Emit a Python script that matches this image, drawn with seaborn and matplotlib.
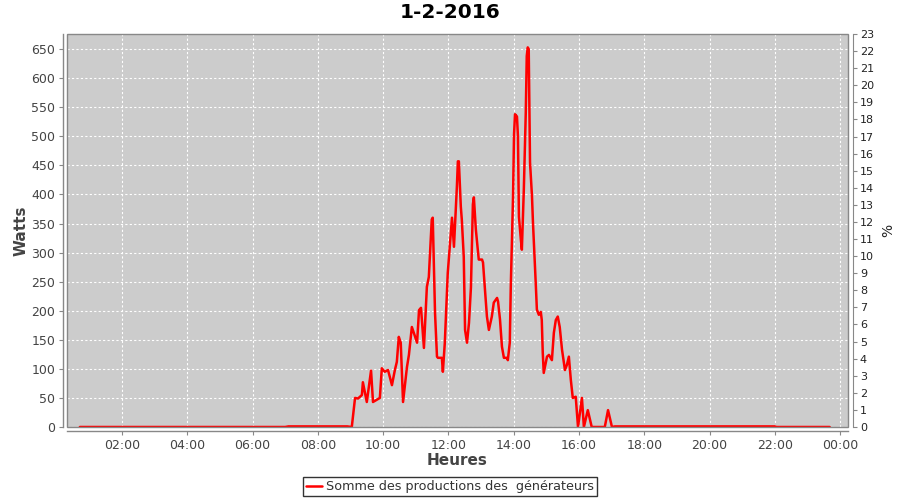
import matplotlib
matplotlib.use('Agg')
import matplotlib.pyplot as plt
import matplotlib.patches as mpatches
import pandas as pd
import seaborn as sns

# heure decimale / puissance en watts
heures = [0.71, 7.00, 7.10, 8.90, 9.04, 9.14, 9.23, 9.35, 9.38, 9.50, 9.63, 9.69, 9.81, 9.90,
          9.96, 10.05, 10.15, 10.27, 10.36, 10.42, 10.48, 10.54, 10.61, 10.73, 10.79, 10.88,
          10.94, 11.04, 11.10, 11.16, 11.25, 11.34, 11.40, 11.49, 11.52, 11.59, 11.65, 11.68,
          11.80, 11.83, 11.89, 11.98, 12.11, 12.17, 12.26, 12.29, 12.32, 12.38, 12.41, 12.47,
          12.51, 12.57, 12.63, 12.69, 12.75, 12.78, 12.84, 12.90, 12.93, 13.03, 13.06, 13.12,
          13.18, 13.24, 13.33, 13.39, 13.49, 13.52, 13.58, 13.64, 13.70, 13.79, 13.82, 13.88,
          13.91, 13.98, 14.01, 14.04, 14.10, 14.13, 14.16, 14.22, 14.25, 14.31, 14.37, 14.40,
          14.43, 14.46, 14.50, 14.56, 14.59, 14.68, 14.71, 14.77, 14.83, 14.86, 14.89, 14.92,
          15.02, 15.08, 15.17, 15.23, 15.29, 15.35, 15.41, 15.48, 15.57, 15.63, 15.69, 15.75,
          15.81, 15.90, 15.97, 16.09, 16.15, 16.27, 16.39, 16.79, 16.89, 17.01, 17.10, 22.00,
          22.05, 23.68]
watts = [0, 0, 1, 1, 0, 50, 49, 55, 77, 43, 97, 43, 47, 50,
         101, 95, 98, 72, 98, 112, 155, 145, 43, 103, 124, 172,
         162, 145, 201, 205, 136, 241, 258, 357, 360, 196, 121, 119,
         119, 95, 145, 265, 360, 310, 414, 457, 457, 379, 357, 293,
         167, 145, 179, 240, 383, 395, 340, 305, 288, 288, 283, 236,
         190, 167, 190, 214, 222, 216, 185, 138, 119, 119, 115, 145,
         240, 397, 503, 538, 534, 500, 362, 322, 305, 408, 541, 638,
         653, 650, 455, 397, 352, 241, 202, 193, 198, 184, 128, 93,
         121, 124, 115, 162, 184, 190, 172, 133, 98, 107, 121, 81,
         50, 52, 0, 50, 0, 29, 0, 0, 29, 0, 1, 1,
         0, 0]

x_ticks = [2, 4, 6, 8, 10, 12, 14, 16, 18, 20, 22, 24]
x_labels = ['02:00', '04:00', '06:00', '08:00', '10:00', '12:00', '14:00',
            '16:00', '18:00', '20:00', '22:00', '00:00']
w_ticks = list(range(0, 651, 50))
pct_ticks = list(range(0, 24))

df = pd.DataFrame({'heure': heures, 'watts': watts})

sns.set_style('darkgrid', {'axes.facecolor': '#cccccc', 'grid.color': 'white',
                           'grid.linestyle': (0, (2, 2)), 'axes.edgecolor': '#888888'})
plt.rcParams['font.family'] = ['DejaVu Sans']

fig = plt.figure(figsize=(9, 5), dpi=100)
ax = fig.add_axes([0.0744, 0.146, 0.8678, 0.786])

sns.lineplot(data=df, x='heure', y='watts', color='red', linewidth=1.8, estimator=None,
             ax=ax, label='Somme des productions des  générateurs', legend=False)

ax.set_xlim(0.315, 24.24)
ax.set_ylim(0, 676)
ax.set_xticks(x_ticks)
ax.set_xticklabels(x_labels)
ax.set_yticks(w_ticks)
ax.grid(True, color='white', linestyle=(0, (2, 2)), linewidth=0.8)
ax.tick_params(axis='both', colors='#888888', labelcolor='#444444', labelsize=9,
               length=3, width=0.8, direction='out', left=True, bottom=True, pad=2.5)
ax.set_xlabel('Heures', fontsize=11, fontweight='bold', color='#444444', labelpad=1)
ax.set_ylabel('Watts', fontsize=11, fontweight='bold', color='#444444', labelpad=2)

for s in ['top', 'right']:
    ax.spines[s].set_visible(False)
for s in ['left', 'bottom']:
    ax.spines[s].set_position(('outward', 3))
    ax.spines[s].set_color('#888888')
    ax.spines[s].set_linewidth(1)

# cadre du graphique
ax.add_patch(mpatches.Rectangle((0, 0), 1, 1, transform=ax.transAxes, fill=False,
                                edgecolor='#888888', linewidth=1, clip_on=False, zorder=5))

ax2 = ax.twinx()
ax2.set_ylim(0, 23.0)
ax2.set_yticks(pct_ticks)
ax2.grid(False)
for s in ['top', 'left', 'bottom']:
    ax2.spines[s].set_visible(False)
ax2.spines['right'].set_position(('outward', 3.5))
ax2.spines['right'].set_color('#888888')
ax2.tick_params(axis='y', colors='#888888', labelcolor='#222222', labelsize=8,
                length=3, width=0.8, right=True, pad=2)
ax2.set_ylabel('%', fontsize=10, color='#222222', labelpad=5)

fig.suptitle('1-2-2016', fontsize=14.5, fontweight='bold', color='black', y=0.995)

handles, labels = ax.get_legend_handles_labels()
leg = fig.legend(handles, labels, loc='lower center', bbox_to_anchor=(0.5, 0.002),
                 frameon=True, fancybox=False, edgecolor='black', fontsize=9.2,
                 handlelength=1.3, handletextpad=0.3, borderpad=0.25, borderaxespad=0.2,
                 labelcolor='#333333')
leg.get_frame().set_linewidth(1)
leg.get_frame().set_facecolor('white')

fig.savefig('out.png', dpi=100, facecolor='white')
plt.close(fig)
